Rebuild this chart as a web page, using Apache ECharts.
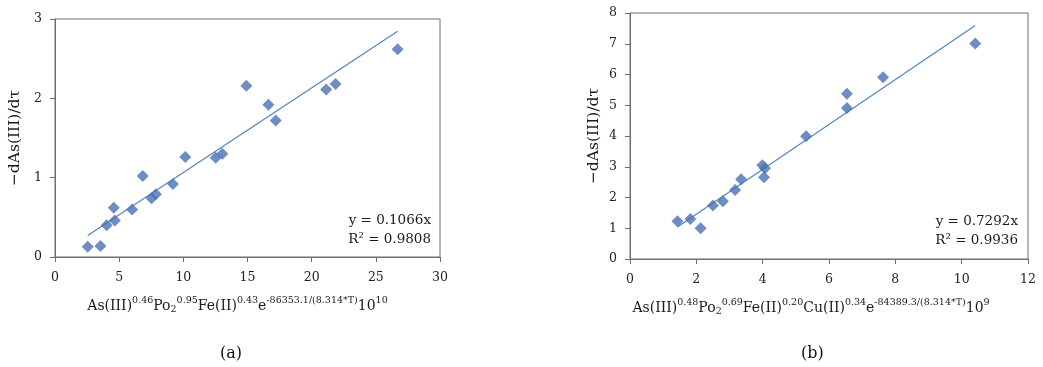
<!DOCTYPE html>
<html>
<head>
<meta charset="utf-8">
<script src="https://cdn.jsdelivr.net/npm/echarts@6/dist/echarts.min.js"></script>
<style>
  html, body { margin: 0; padding: 0; background: #fff; }
  #chart { width: 1043px; height: 367px; }
</style>
</head>
<body>
<div id="chart"></div>
<script>
// Panel (a): rate vs. rate term (×10^10)
const xA = [2.55, 3.54, 4.03, 4.58, 4.66, 6.01, 6.84, 7.52, 7.86, 9.19, 10.15, 12.52, 13.04, 14.91, 16.63, 17.2, 21.13, 21.86, 26.7];
const yA = [0.13, 0.14, 0.40, 0.62, 0.46, 0.60, 1.02, 0.74, 0.79, 0.92, 1.26, 1.25, 1.30, 2.16, 1.92, 1.72, 2.11, 2.18, 2.62];
// Panel (b): rate vs. rate term (×10^9)
const xB = [1.43, 1.82, 2.13, 2.50, 2.80, 3.17, 3.35, 3.99, 4.07, 4.04, 5.31, 6.54, 6.54, 7.63, 10.41];
const yB = [1.23, 1.30, 1.00, 1.74, 1.88, 2.24, 2.59, 3.05, 2.95, 2.66, 3.99, 5.37, 4.91, 5.91, 7.01];

// Fitted slopes through the origin and their R²
const slopes = [0.1066, 0.7292];
const r2 = ['0.9808', '0.9936'];

// Axis ranges and tick spacing
const xMax = [30, 12], xStep = [5, 2];
const yMax = [3, 8], yStep = [1, 1];
const panelTags = ['(a)', '(b)'];

const MARK = '#4870B4';
const LINE = '#4F81BD';
const AXIS = '#6e6e6e';
const FONT = 'DejaVu Serif';

const zipPts = (xs, ys) => xs.map((x, i) => [x, ys[i]]);
function fitLine(xs, k) {
  const lo = Math.min(...xs), hi = Math.max(...xs);
  return [[lo, k * lo], [hi, k * hi]];
}

const rich = {
  n: { fontFamily: FONT, fontSize: 14, color: '#1a1a1a' },
  sup: { fontFamily: FONT, fontSize: 9.5, color: '#1a1a1a', padding: [0, 0, 10, 0] },
  sub: { fontFamily: FONT, fontSize: 9.5, color: '#1a1a1a', padding: [7, 0, 0, 0] }
};
const nameA = '{n|As(III)}{sup|0.46}{n|Po}{sub|2}{sup|0.95}{n|Fe(II)}{sup|0.43}{n|e}{sup|-86353.1/(8.314*T)}{n|10}{sup|10}';
const nameB = '{n|As(III)}{sup|0.48}{n|Po}{sub|2}{sup|0.69}{n|Fe(II)}{sup|0.20}{n|Cu(II)}{sup|0.34}{n|e}{sup|-84389.3/(8.314*T)}{n|10}{sup|9}';
const yName = '\u2212dAs(III)/d\u03c4';

const grids = [
  { left: 55, top: 19, width: 385, height: 238, show: true, borderColor: AXIS, borderWidth: 1 },
  { left: 630, top: 13, width: 398, height: 246, show: true, borderColor: AXIS, borderWidth: 1 }
];

function xAxisFor(i, name, shift) {
  return {
    type: 'value', gridIndex: i, min: 0, max: xMax[i], interval: xStep[i],
    name: name, nameLocation: 'middle', nameGap: 39,
    nameTextStyle: { rich: rich, align: 'center', padding: [0, shift, 0, 0] },
    axisLine: { lineStyle: { color: AXIS, width: 1 } },
    axisTick: { show: true, length: 5, lineStyle: { color: AXIS } },
    axisLabel: { fontFamily: FONT, fontSize: 12.5, color: '#222', margin: 14 },
    splitLine: { show: false }
  };
}
function yAxisFor(i, gap) {
  return {
    type: 'value', gridIndex: i, min: 0, max: yMax[i], interval: yStep[i],
    name: yName, nameLocation: 'middle', nameGap: gap, nameRotate: 90,
    nameTextStyle: { fontFamily: FONT, fontSize: 15.5, color: '#1a1a1a' },
    axisLine: { show: true, lineStyle: { color: AXIS, width: 1 } },
    axisTick: { show: true, length: 5, lineStyle: { color: AXIS } },
    axisLabel: { fontFamily: FONT, fontSize: 12.5, color: '#222', margin: 13 },
    splitLine: { show: false }
  };
}

function scatter(i, xs, ys) {
  return {
    type: 'scatter', xAxisIndex: i, yAxisIndex: i,
    data: zipPts(xs, ys), symbol: 'diamond', symbolSize: [12, 12],
    itemStyle: { color: MARK }, z: 3
  };
}
function trend(i, xs) {
  return {
    type: 'line', xAxisIndex: i, yAxisIndex: i,
    data: fitLine(xs, slopes[i]), showSymbol: false, symbol: 'none',
    lineStyle: { color: LINE, width: 1.1 }, z: 2, silent: true
  };
}

const eqStyle = { fontFamily: FONT, fontSize: 13.5, fill: '#1a1a1a', textAlign: 'right' };
const graphic = [
  { type: 'text', right: 612, top: 213, style: Object.assign({ text: 'y = ' + slopes[0] + 'x' }, eqStyle) },
  { type: 'text', right: 612, top: 232, style: Object.assign({ text: 'R\u00b2 = ' + r2[0] }, eqStyle) },
  { type: 'text', right: 25, top: 214, style: Object.assign({ text: 'y = ' + slopes[1] + 'x' }, eqStyle) },
  { type: 'text', right: 25, top: 233, style: Object.assign({ text: 'R\u00b2 = ' + r2[1] }, eqStyle) },
  { type: 'text', left: 220, top: 346, style: { text: panelTags[0], fontFamily: FONT, fontSize: 16, fill: '#111' } },
  { type: 'text', left: 801, top: 346, style: { text: panelTags[1], fontFamily: FONT, fontSize: 16, fill: '#111' } }
];

const chart = echarts.init(document.getElementById('chart'), null, { renderer: 'canvas' });
chart.setOption({
  animation: false,
  backgroundColor: '#ffffff',
  grid: grids,
  xAxis: [xAxisFor(0, nameA, 20), xAxisFor(1, nameB, 36)],
  yAxis: [yAxisFor(0, 32), yAxisFor(1, 28)],
  series: [scatter(0, xA, yA), trend(0, xA), scatter(1, xB, yB), trend(1, xB)],
  graphic: graphic
});
</script>
</body>
</html>
